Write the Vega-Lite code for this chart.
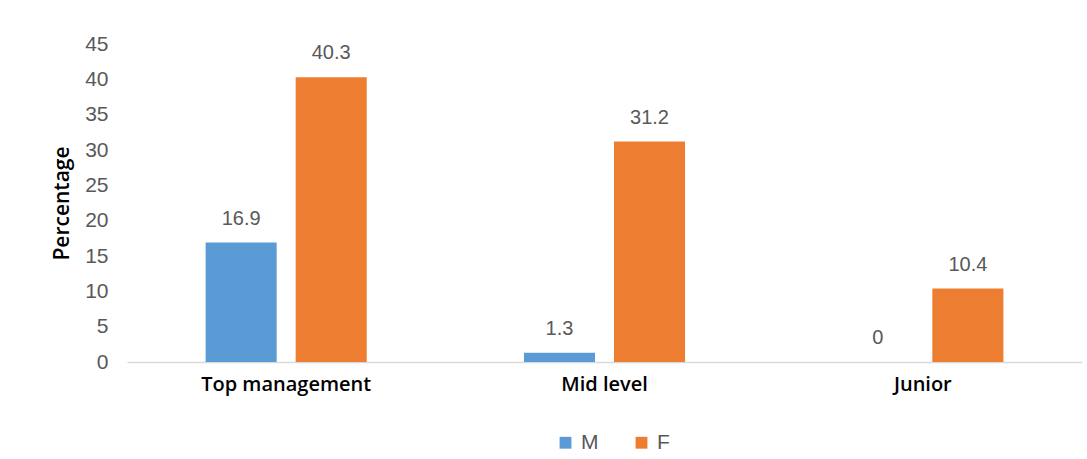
{
  "$schema": "https://vega.github.io/schema/vega-lite/v6.json",
  "autosize": "none",
  "width": 955,
  "height": 318,
  "padding": {"left": 127, "top": 44, "right": 5, "bottom": 97},
  "background": "white",
  "config": {"view": {"stroke": null}, "font": "Liberation Sans"},
  "data": {"values": [
    {"level": "Top management", "sex": "M", "pct": 16.9},
    {"level": "Top management", "sex": "F", "pct": 40.3},
    {"level": "Mid level", "sex": "M", "pct": 1.3},
    {"level": "Mid level", "sex": "F", "pct": 31.2},
    {"level": "Junior", "sex": "M", "pct": 0},
    {"level": "Junior", "sex": "F", "pct": 10.4}
  ]},
  "encoding": {
    "x": {"field": "level", "type": "nominal", "sort": ["Top management", "Mid level", "Junior"],
      "scale": {"paddingInner": 0.494, "paddingOuter": 0.247},
      "axis": {"title": null, "labelAngle": 0, "labelFontSize": 20, "labelColor": "#000000", "labelFontWeight": 600, "labelFont": "Open Sans", "domainColor": "#D9D9D9", "domainWidth": 1.5, "ticks": false, "labelPadding": 12}},
    "xOffset": {"field": "sex", "type": "nominal", "sort": ["M", "F"], "scale": {"paddingInner": 0.211, "paddingOuter": 0}},
    "y": {"field": "pct", "type": "quantitative",
      "scale": {"domain": [0, 45]},
      "axis": {"title": "Percentage", "titleFontSize": 21, "titleFontWeight": 600, "titleColor": "#000000", "titleFont": "Open Sans", "titlePadding": 12,
        "values": [0, 5, 10, 15, 20, 25, 30, 35, 40, 45], "labelFontSize": 21, "labelColor": "#595959", "grid": false, "domain": false, "ticks": false, "labelPadding": 19}}
  },
  "layer": [
    {"mark": {"type": "bar"},
     "encoding": {
      "color": {"field": "sex", "type": "nominal", "sort": ["M", "F"],
        "scale": {"domain": ["M", "F"], "range": ["#5B9BD5", "#ED7D31"]},
        "legend": {"title": null, "orient": "none", "legendX": 428, "legendY": 388, "direction": "horizontal", "symbolType": "square", "symbolSize": 140, "symbolStrokeWidth": 0, "labelFontSize": 21, "labelColor": "#595959", "columnPadding": 32, "labelOffset": 5}}
     }},
    {"mark": {"type": "text", "baseline": "middle", "dy": -24, "fontSize": 20, "color": "#595959"},
     "encoding": {"text": {"field": "pct", "type": "quantitative"}}}
  ]
}
